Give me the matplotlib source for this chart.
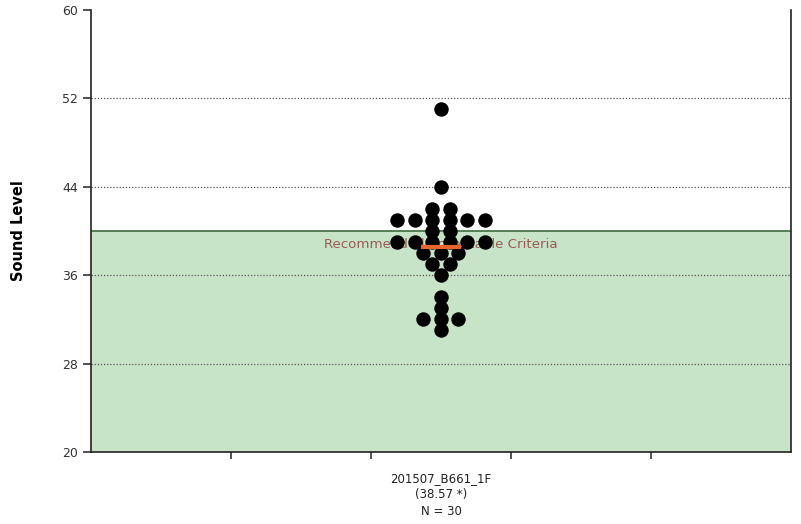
import numpy as np
import matplotlib
matplotlib.use("Agg")
import matplotlib.pyplot as plt

# sound level readings (value, count)
levels = [51, 44, 42, 41, 40, 39, 38, 37, 36, 34, 33, 32, 31]
counts = [1, 1, 2, 6, 2, 6, 3, 2, 1, 1, 1, 3, 1]
category = "201507_B661_1F"
criteria_level = 40
y_ticks = [20, 28, 36, 44, 52, 60]

values = np.repeat(levels, counts)
mean_val = values.mean()

fig = plt.figure(figsize=(8.01, 5.24), dpi=100)
ax = fig.add_axes([0.1136, 0.1374, 0.8739, 0.8435])

center = 2.5
step = 0.125  # horizontal spacing between stacked dots

# acceptable region
ax.axhspan(20, criteria_level, color="#c8e4c8", zorder=0)
ax.axhline(criteria_level, color="#3f6b3f", lw=1.2, zorder=1)

for y in [28, 36, 44, 52]:
    ax.axhline(y, color="#555555", lw=0.9, ls=(0, (1, 1.5)), zorder=1)

ax.text(center, 38.75, "Recommended Acceptable Criteria", ha="center", va="center",
        fontsize=9.6, color="#9a5a50", zorder=2)

xs, ys = [], []
for lv, n in zip(levels, counts):
    offs = (np.arange(n) - (n - 1) / 2) * step
    xs.extend(center + offs)
    ys.extend([lv] * n)
ax.scatter(xs, ys, s=108, color="black", zorder=3, linewidths=0)

ax.plot([center - 0.13, center + 0.13], [mean_val, mean_val], color="#e8642c", lw=3, zorder=4)

ax.set_xlim(0, 5)
ax.set_ylim(20, 60)
ax.set_yticks(y_ticks)
ax.set_xticks([1, 2, 3, 4])
ax.set_xticklabels([])
ax.tick_params(axis="y", labelsize=9, colors="#333333", length=6, width=1.2)
ax.tick_params(axis="x", length=5, width=1.2, colors="#333333")
ax.spines["top"].set_visible(False)
for s in ["left", "bottom", "right"]:
    ax.spines[s].set_linewidth(1.2)
    ax.spines[s].set_color("#222222")

ax.set_ylabel("Sound Level", fontsize=10.5, fontweight="bold", labelpad=26)

ax.text(center, -0.045, f"{category}\n({mean_val:.2f} *)\nN = {len(values)}",
        transform=ax.get_xaxis_transform(), ha="center", va="top",
        fontsize=8.5, color="#222222", linespacing=1.35)

fig.savefig("out.png", dpi=100)
